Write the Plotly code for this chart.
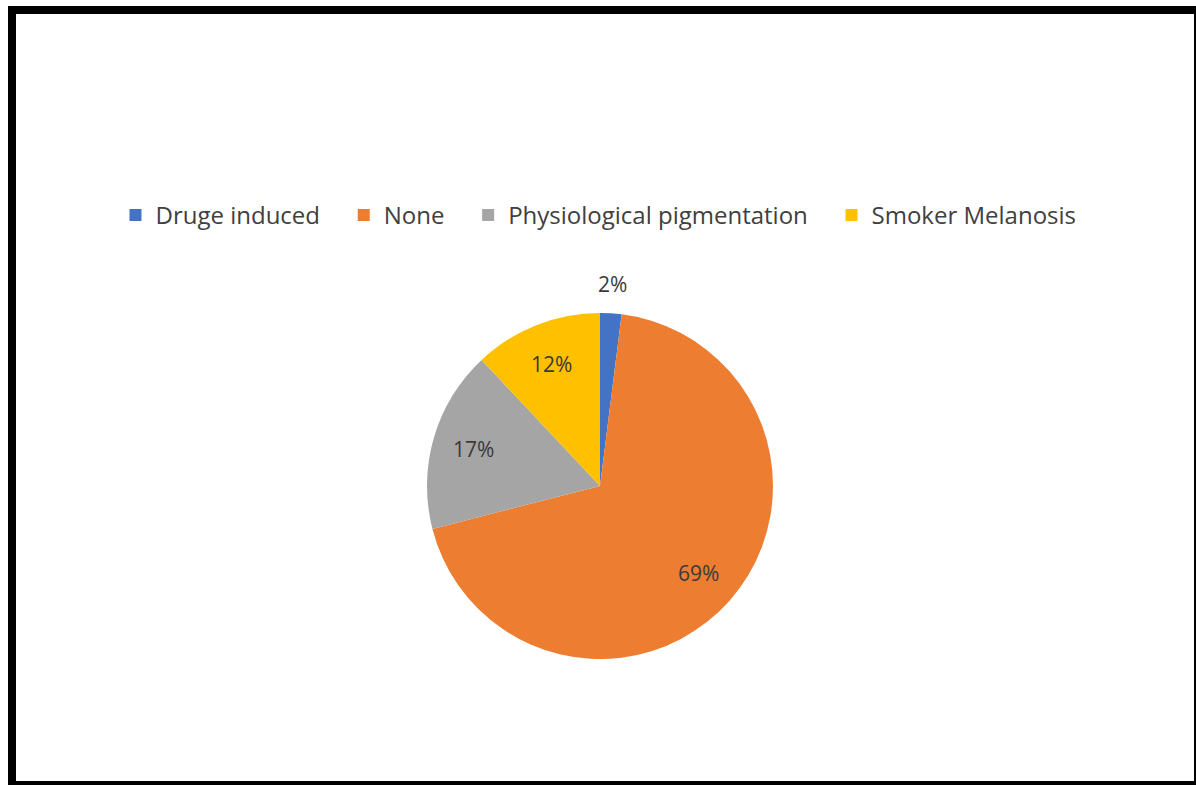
import math
import plotly.graph_objects as go

W, H = 1196, 785

labels = ["Druge induced", "None", "Physiological pigmentation", "Smoker Melanosis"]
values = [2, 69, 17, 12]
colors = ["#4472C4", "#ED7D31", "#A5A5A5", "#FFC000"]
label_radius = [1.17, 0.76, 0.76, 0.76]  # fraction of pie radius where each percent label sits

FONT = "Open Sans, Lato, sans-serif"
PAD = "\u00a0\u00a0\u00a0"  # extra spacing after each legend entry

def px(x):
    return x / W

def py(y):
    return 1 - y / H

# pie geometry (pixels)
CX, CY, R = 600, 486, 173

fig = go.Figure(go.Pie(
    labels=[l + PAD for l in labels],
    values=values,
    sort=False,
    direction="clockwise",
    rotation=0,
    marker=dict(colors=colors, line=dict(color="white", width=0)),
    textinfo="none",
    domain=dict(x=[px(CX - R), px(CX + R)], y=[py(CY + R), py(CY - R)]),
    hoverinfo="label+percent",
))

# percent labels placed at each slice's mid-angle (computed from the data)
total = sum(values)
annotations = []
cum = 0
for v, f in zip(values, label_radius):
    mid = (cum + v / 2) / total * 2 * math.pi
    cum += v
    x = CX + R * f * math.sin(mid)
    y = CY - R * f * math.cos(mid)
    annotations.append(dict(
        x=px(x), y=py(y), xref="paper", yref="paper",
        text=f"{round(v / total * 100)}%", showarrow=False,
        font=dict(family=FONT, size=21, color="#3a3a3a"),
        xanchor="center", yanchor="middle",
    ))

shapes = []
for (x0, y0, x1, y1) in [(8, 6, 1196, 14), (8, 6, 16, 785), (1194, 6, 1196, 785), (8, 781, 1196, 785)]:
    shapes.append(dict(type="rect", xref="paper", yref="paper",
                       x0=px(x0), x1=px(x1), y0=py(y1), y1=py(y0),
                       fillcolor="black", line=dict(width=0), layer="above"))

fig.update_layout(
    width=W, height=H,
    margin=dict(l=0, r=0, t=0, b=0),
    paper_bgcolor="white",
    plot_bgcolor="white",
    shapes=shapes,
    annotations=annotations,
    legend=dict(orientation="h", x=px(608), xanchor="center", y=py(193), yanchor="top",
                font=dict(family=FONT, size=24, color="#404040"),
                itemwidth=30, traceorder="normal"),
    showlegend=True,
)

fig.write_html("out.html")
